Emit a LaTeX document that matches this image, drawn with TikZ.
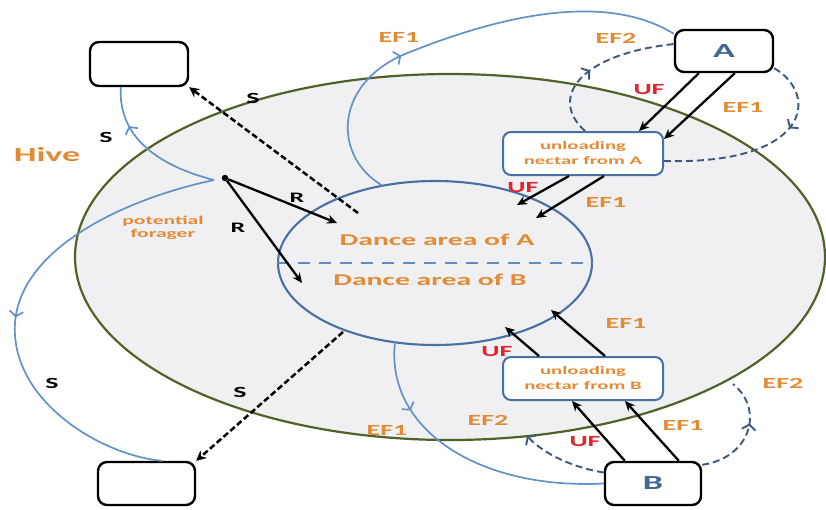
\documentclass[tikz,border=0pt]{standalone}
\usepackage{fontspec}
\setmainfont{Carlito}
\usepackage{graphicx}
\usetikzlibrary{arrows.meta,decorations.markings,calc,shapes.geometric}
\definecolor{hivefill}{RGB}{240,240,242}
\definecolor{hiveline}{RGB}{79,98,40}
\definecolor{danceline}{RGB}{72,112,164}
\definecolor{dashblue}{RGB}{96,140,196}
\definecolor{curveblue}{RGB}{100,146,198}
\definecolor{loopblue}{RGB}{62,88,126}
\definecolor{lblorange}{RGB}{226,139,53}
\definecolor{lblred}{RGB}{226,36,46}
\definecolor{letterblue}{RGB}{66,104,146}
\newcommand{\xwide}[1]{\scalebox{1.8}[1]{#1}}
\begin{document}
\begin{tikzpicture}[x=1pt,y=-1pt,
  lbl/.style={inner sep=0pt, font=\fontsize{15.5}{18}\selectfont\bfseries},
  orangelbl/.style={lbl, text=lblorange},
  redlbl/.style={lbl, text=lblred},
  blacklbl/.style={lbl, text=black},
  blackbox/.style={draw=black, line width=2.4pt, rounded corners=9pt, fill=white, inner sep=0pt},
  letter/.style={font=\fontsize{20}{24}\selectfont\bfseries, text=letterblue},
  unloadbox/.style={draw=danceline, line width=2pt, rounded corners=8pt, fill=white, inner sep=0pt, minimum width=160pt, minimum height=43pt, text=lblorange, font=\fontsize{11.5}{15}\selectfont\bfseries},
  solidarrow/.style={draw=black, line width=2.3pt, -{Stealth[length=10pt,width=9pt]}},
  sflow/.style={draw=black, line width=2.5pt, dash pattern=on 6pt off 3pt, -{Stealth[length=10pt,width=10pt]}},
  bluecurve/.style={draw=curveblue, line width=1.7pt},
  dashloop/.style={draw=loopblue, line width=1.9pt, dash pattern=on 7pt off 4pt},
  midtip/.style={postaction={decorate, decoration={markings, mark=at position #1 with {\arrow{Straight Barb[length=5pt,width=14pt]}}}}}
]
\useasboundingbox (0,0) rectangle (826,509);
\fill[white] (0,0) rectangle (826,509);

% hive and dance area
\node[ellipse, draw=hiveline, fill=hivefill, line width=2.2pt, minimum width=750pt, minimum height=366pt, inner sep=0pt] (hive) at (450,257) {};
\node[ellipse, draw=danceline, fill=hivefill, line width=2.1pt, minimum width=314pt, minimum height=164pt, inner sep=0pt] (dance) at (435,263) {};
\draw[dashblue, line width=1.8pt, dash pattern=on 12pt off 9pt] (dance.west) -- (dance.east);

% boxes
\node[blackbox, minimum width=98pt, minimum height=44pt] (tl) at (139,64) {};
\node[blackbox, minimum width=97pt, minimum height=43pt] (bl) at (146.5,483.5) {};
\node[blackbox, letter, minimum width=98pt, minimum height=42pt] (A) at (724,51) {\xwide{A}};
\node[blackbox, letter, minimum width=96pt, minimum height=43pt] (B) at (653,483.5) {\xwide{B}};

\coordinate (cusp) at (214,180);
\coordinate (hB) at (733,384);
\coordinate (hBl) at (527,436);

% blue curves
\draw[bluecurve, midtip=0.72] (cusp) .. controls (155,165) and (118,135) .. ($(tl.south west)+(32,0)$);
\draw[bluecurve, midtip=0.53] (cusp) .. controls (120,200) and (20,250) .. (15,323) .. controls (10,400) and (100,455) .. ($(bl.north west)+(65,0)$);
\draw[bluecurve, midtip=0.37] ($(dance.center)+(-52,-77)$) .. controls (330,155) and (335,80) .. (410,52) .. controls (485,22) and (600,-12) .. ($(A.north west)+(0,5)$);
\draw[bluecurve, midtip=0.25] ($(dance.center)+(-40,79)$) .. controls (385,430) and (480,490) .. (B.west);

% unloading boxes
\node[unloadbox] (uA) at (583,153.5) {\xwide{\begin{tabular}{@{}c@{}}unloading\\nectar from A\end{tabular}}};
\node[redlbl] at (497,352) {\xwide{UF}};
\node[unloadbox] (uB) at (583,378.5) {\xwide{\begin{tabular}{@{}c@{}}unloading\\nectar from B\end{tabular}}};

% dashed loops
\draw[dashloop, midtip=0.45] ($(uA.north west)+(83,0)$) .. controls (550,100) and (575,55) .. ($(A.west)+(0,-7)$);
\draw[dashloop, midtip=0.35] ($(A.south east)+(0,-5)$) .. controls (820,95) and (810,165) .. ($(uA.east)+(0,7.5)$);
\draw[dashloop, midtip=0.6] ($(B.north east)+(0,4)$) .. controls (750,458) and (765,410) .. (hB);
\draw[dashloop, -{Straight Barb[length=5pt,width=14pt]}] ($(B.west)+(0,-11)$) .. controls (575,468) and (545,455) .. (hBl);

% black arrows
\node[circle, fill=black, inner sep=0pt, minimum size=6.5pt] (pf) at (225,178) {};
\draw[solidarrow] ($(A.south west)+(25,0)$) -- ($(uA.north west)+(137,0)$);
\draw[solidarrow] ($(A.south west)+(61,0)$) -- ($(uA.north east)+(0,8)$);
\draw[solidarrow] ($(uA.south west)+(67,0)$) -- ($(dance.center)+(82,-58)$);
\draw[solidarrow] ($(uA.south west)+(102,0)$) -- ($(dance.center)+(101,-45)$);
\draw[solidarrow] ($(uB.north west)+(37,0)$) -- ($(dance.center)+(70,64)$);
\draw[solidarrow] ($(uB.north west)+(103,0)$) -- ($(dance.center)+(116,47)$);
\draw[solidarrow] ($(B.north west)+(21,0)$) -- ($(uB.south west)+(70,0)$);
\draw[solidarrow] ($(B.north west)+(75,0)$) -- ($(uB.south west)+(123,0)$);
\draw[solidarrow] (pf) -- ($(dance.center)+(-98,-40)$);
\draw[solidarrow] (pf) -- ($(dance.center)+(-133,20)$);
\draw[sflow] ($(dance.center)+(-77,-50)$) -- (tl.south east);
\draw[sflow] ($(dance.center)+(-92,69)$) -- (bl.north east);

% texts
\node[font=\fontsize{20}{24}\selectfont\bfseries, text=lblorange] at (47,155) {\xwide{Hive}};
\node[font=\fontsize{12}{13}\selectfont\bfseries, text=lblorange] at (163,228.5) {\xwide{\begin{tabular}{@{}c@{}}potential\\forager\end{tabular}}};
\node[font=\fontsize{16.5}{20}\selectfont\bfseries, text=lblorange] at (437,240) {\xwide{Dance area of A}};
\node[font=\fontsize{16.5}{20}\selectfont\bfseries, text=lblorange] at (430,280) {\xwide{Dance area of B}};

\node[orangelbl] at (399,37) {\xwide{EF1}};
\node[orangelbl] at (616,38) {\xwide{EF2}};
\node[orangelbl] at (743,107) {\xwide{EF1}};
\node[orangelbl] at (606,202) {\xwide{EF1}};
\node[orangelbl] at (626,323) {\xwide{EF1}};
\node[orangelbl] at (783,383) {\xwide{EF2}};
\node[orangelbl] at (488,420) {\xwide{EF2}};
\node[orangelbl] at (683,425) {\xwide{EF1}};
\node[orangelbl] at (387,430) {\xwide{EF1}};

\node[redlbl] at (649,90) {\xwide{UF}};
\node[redlbl] at (523,188) {\xwide{UF}};
\node[redlbl] at (585,442) {\xwide{UF}};

\node[blacklbl] at (106,137) {\xwide{S}};
\node[blacklbl] at (253,98) {\xwide{S}};
\node[blacklbl] at (52,383) {\xwide{S}};
\node[blacklbl] at (240,392) {\xwide{S}};
\node[blacklbl, font=\fontsize{14.5}{17}\selectfont\bfseries] at (297,198) {\xwide{R}};
\node[blacklbl, font=\fontsize{14.5}{17}\selectfont\bfseries] at (238,228) {\xwide{R}};
\end{tikzpicture}
\end{document}
